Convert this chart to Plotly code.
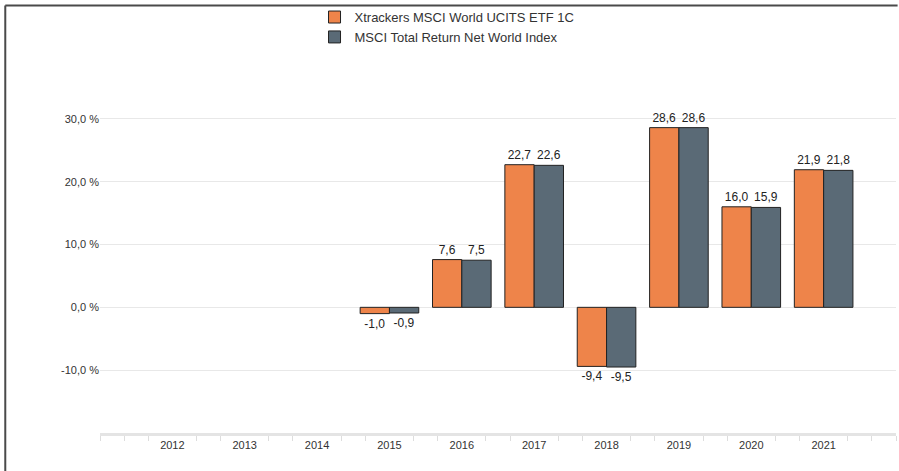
import plotly.graph_objects as go

years = [2012, 2013, 2014, 2015, 2016, 2017, 2018, 2019, 2020, 2021]
etf = [None, None, None, -1.0, 7.6, 22.7, -9.4, 28.6, 16.0, 21.9]
index = [None, None, None, -0.9, 7.5, 22.6, -9.5, 28.6, 15.9, 21.8]
names = ["Xtrackers MSCI World UCITS ETF 1C", "MSCI Total Return Net World Index"]
colors = ["#EE844A", "#5A6A76"]
ytickvals = [-20, -10, 0, 10, 20, 30, 40]
yticktext = ["", "-10,0 %", "0,0 %", "10,0 %", "20,0 %", "30,0 %", ""]

FONT = "Liberation Sans, Arial, Helvetica, sans-serif"

fig = go.Figure()
for name, vals, col in zip(names, [etf, index], colors):
    fig.add_trace(go.Bar(
        x=years, y=vals, name=name,
        marker=dict(color=col, line=dict(color="#222222", width=1)),
        text=[None if v is None else f"{v:.1f}".replace(".", ",") for v in vals],
        textposition="outside", cliponaxis=False,
        textfont=dict(family=FONT, size=12, color="#222222"),
    ))

minor_vals = []
for k in range(0, 34):
    v = 2011 + k / 3
    if abs(v - round(v)) < 1e-6 and 2012 <= round(v) <= 2021:
        continue
    minor_vals.append(v)

fig.update_layout(
    width=899, height=471,
    margin=dict(l=100, r=3, t=55, b=38),
    paper_bgcolor="white", plot_bgcolor="white",
    barmode="group", bargap=0.19, bargroupgap=0,
    font=dict(family=FONT, size=11, color="#333333"),
    legend=dict(orientation="v", x=0.2695, xanchor="left", y=1.14, yanchor="top",
                font=dict(family=FONT, size=13, color="#333333"),
                itemwidth=30, tracegroupgap=0, bgcolor="rgba(0,0,0,0)"),
    xaxis=dict(range=[2011, 2022], tickmode="array", tickvals=years,
               ticktext=[str(y) for y in years], ticks="", showgrid=False,
               showline=True, linecolor="#e4e4e4", linewidth=3,
               tickfont=dict(family=FONT, size=11, color="#333333"),
               minor=dict(tickvals=minor_vals, ticks="outside", ticklen=5,
                          tickcolor="#dddddd", tickwidth=1, showgrid=False)),
    yaxis=dict(range=[-20, 40], tickmode="array", tickvals=ytickvals, ticktext=yticktext,
               showgrid=True, gridcolor="#e8e8e8", gridwidth=1, zeroline=False,
               ticks="", showline=False,
               tickfont=dict(family=FONT, size=11, color="#333333")),
    shapes=[
        dict(type="line", xref="paper", yref="paper", x0=-0.119, x1=-0.119, y0=1.134, y1=-0.2,
             line=dict(color="#4a4a4a", width=2)),
        dict(type="line", xref="paper", yref="paper", x0=-0.119, x1=1.002, y0=1.134, y1=1.134,
             line=dict(color="#4a4a4a", width=2)),
    ],
)

fig.write_html("out.html", config={"displayModeBar": False},
               post_script="document.body.style.margin='0';")
